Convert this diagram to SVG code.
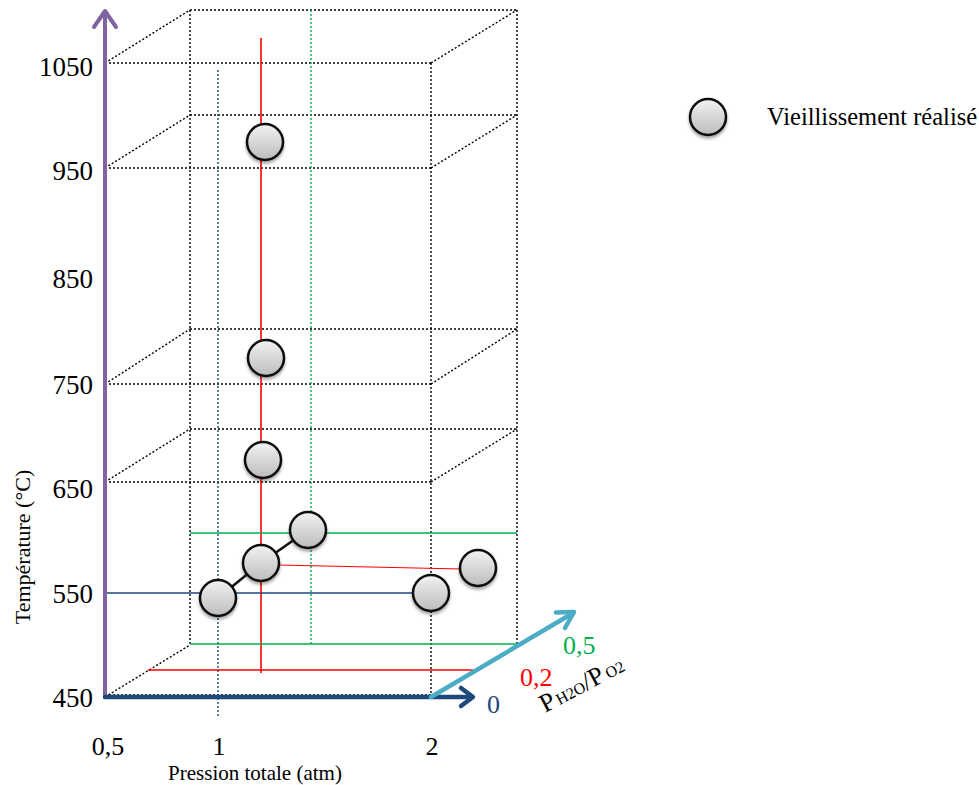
<svg xmlns="http://www.w3.org/2000/svg" width="979" height="785" viewBox="0 0 979 785">
<style>
  .dot { stroke: #000; stroke-width: 1.4; stroke-dasharray: 2 2; fill: none; }
  .t { font-family: "Liberation Serif", "Times New Roman", serif; fill: #000; }
  .num { font-size: 27px; }
  .pt { fill: url(#g); stroke: #111; stroke-width: 2.5; filter: url(#sh); }
  .arr { fill: none; stroke-linecap: round; stroke-linejoin: round; }
</style>
<defs>
  <linearGradient id="g" x1="0" y1="0" x2="0" y2="1">
    <stop offset="0" stop-color="#f2f2f2"/>
    <stop offset="1" stop-color="#bcbcbc"/>
  </linearGradient>
  <filter id="sh" x="-30%" y="-30%" width="160%" height="170%">
    <feDropShadow dx="0" dy="2.5" stdDeviation="1.8" flood-color="#000" flood-opacity="0.35"/>
  </filter>
</defs>
<rect width="979" height="785" fill="#fff"/>

<g id="grid">
  <line class="dot" x1="105" y1="63" x2="431" y2="63"/>
  <line class="dot" x1="105" y1="168" x2="431" y2="168"/>
  <line class="dot" x1="105" y1="384" x2="431" y2="384"/>
  <line class="dot" x1="105" y1="482" x2="431" y2="482"/>
  <line class="dot" x1="105" y1="695" x2="431" y2="695"/>
  <line class="dot" x1="190" y1="10" x2="517" y2="10"/>
  <line class="dot" x1="190" y1="115" x2="517" y2="115"/>
  <line class="dot" x1="190" y1="329" x2="517" y2="329"/>
  <line class="dot" x1="190" y1="429" x2="517" y2="429"/>
  <line class="dot" x1="105" y1="63" x2="190" y2="10"/>
  <line class="dot" x1="105" y1="168" x2="190" y2="115"/>
  <line class="dot" x1="105" y1="384" x2="190" y2="329"/>
  <line class="dot" x1="105" y1="482" x2="190" y2="429"/>
  <line class="dot" x1="105" y1="697" x2="190" y2="645"/>
  <line class="dot" x1="431" y1="63" x2="517" y2="10"/>
  <line class="dot" x1="431" y1="168" x2="517" y2="115"/>
  <line class="dot" x1="431" y1="384" x2="517" y2="329"/>
  <line class="dot" x1="431" y1="482" x2="517" y2="429"/>
  <line class="dot" x1="190" y1="10" x2="190" y2="645"/>
  <line class="dot" x1="517" y1="10" x2="517" y2="645"/>
  <line class="dot" x1="431" y1="63" x2="431" y2="697"/>
  <line class="dot" style="stroke:#1F497D" x1="218" y1="70" x2="218" y2="718"/>
  <line class="dot" style="stroke:#00B050" x1="311" y1="10" x2="311" y2="645"/>
</g>

<g id="connectors">
  <line x1="261" y1="38" x2="261" y2="673" stroke="#FF0000" stroke-width="1.6"/>
  <line x1="148" y1="670" x2="473" y2="670" stroke="#FF0000" stroke-width="1.6"/>
  <line x1="190" y1="533" x2="517" y2="533" stroke="#00B050" stroke-width="1.6"/>
  <line x1="190" y1="644" x2="517" y2="644" stroke="#00B050" stroke-width="1.6"/>
  <line x1="105" y1="593" x2="415" y2="593" stroke="#1F497D" stroke-width="1.6"/>
  <line x1="278" y1="565" x2="462" y2="569" stroke="#FF0000" stroke-width="1.2"/>
  <polyline points="218,598 261,563 308,530" fill="none" stroke="#111" stroke-width="2.5"/>
</g>

<g id="axes">
  <line class="arr" x1="105" y1="697" x2="105" y2="13" stroke="#8064A2" stroke-width="4"/>
  <polyline class="arr" points="94,27 105,11 116,27" stroke="#8064A2" stroke-width="4"/>
  <line class="arr" x1="105" y1="697" x2="472" y2="697" stroke="#1F497D" stroke-width="4.5"/>
  <polyline class="arr" points="461,688 473,697 461,706" stroke="#1F497D" stroke-width="4.5"/>
  <line class="arr" x1="431" y1="697" x2="573" y2="613" stroke="#4BACC6" stroke-width="4.5"/>
  <polyline class="arr" points="556,612.5 574,612 565,628" stroke="#4BACC6" stroke-width="4.5"/>
</g>

<g id="p1"><circle class="pt" cx="265" cy="142" r="18"/></g>
<g id="p2"><circle class="pt" cx="266" cy="358" r="18"/></g>
<g id="p3"><circle class="pt" cx="263" cy="460" r="18"/></g>
<g id="p4"><circle class="pt" cx="308" cy="530" r="18"/></g>
<g id="p5"><circle class="pt" cx="261" cy="563" r="18"/></g>
<g id="p6"><circle class="pt" cx="218" cy="598" r="18"/></g>
<g id="p7"><circle class="pt" cx="431" cy="593" r="18"/></g>
<g id="p8"><circle class="pt" cx="478" cy="568" r="18"/></g>

<g id="legend">
  <circle class="pt" cx="708" cy="117" r="18"/>
  <text class="t" x="767" y="125" font-size="24.5">Vieillissement réalisé</text>
</g>

<g id="labels">
  <text class="t num" x="93" y="76" text-anchor="end">1050</text>
  <text class="t num" x="93" y="180" text-anchor="end">950</text>
  <text class="t num" x="93" y="288" text-anchor="end">850</text>
  <text class="t num" x="93" y="394" text-anchor="end">750</text>
  <text class="t num" x="93" y="498" text-anchor="end">650</text>
  <text class="t num" x="93" y="603" text-anchor="end">550</text>
  <text class="t num" x="93" y="707" text-anchor="end">450</text>
  <text class="t" transform="translate(30,547) rotate(-90)" text-anchor="middle" font-size="22">Température (°C)</text>
  <text class="t" x="108" y="755" text-anchor="middle" font-size="26">0,5</text>
  <text class="t" x="219" y="755" text-anchor="middle" font-size="26">1</text>
  <text class="t" x="432" y="755" text-anchor="middle" font-size="26">2</text>
  <text class="t" x="255" y="780" text-anchor="middle" font-size="21">Pression totale (atm)</text>
  <text class="t" x="487" y="713" font-size="26" style="fill:#1F497D">0</text>
  <text class="t" x="520" y="686" font-size="26" style="fill:#FF0000">0,2</text>
  <text class="t" x="563" y="654" font-size="26" style="fill:#00B050">0,5</text>
  <text class="t" transform="translate(545,713) rotate(-28)" font-size="26">P<tspan font-size="16" dx="2">H2O</tspan>/P<tspan font-size="16" dx="3">O2</tspan></text>
</g>
</svg>
